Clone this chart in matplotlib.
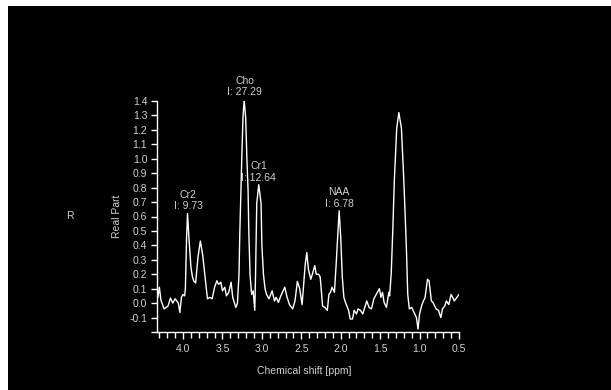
import matplotlib
matplotlib.use("Agg")
from matplotlib import pyplot as plt
from matplotlib.patches import Rectangle
from matplotlib.ticker import MultipleLocator, FixedLocator
import numpy as np

# spectrum (ppm, real part)
ppm = [4.32, 4.30, 4.28, 4.24, 4.19, 4.16, 4.13, 4.10, 4.06, 4.04, 4.02, 4.00, 3.98,
       3.97, 3.955, 3.943, 3.925, 3.90, 3.88, 3.86, 3.84, 3.81, 3.78, 3.75, 3.72, 3.69,
       3.66, 3.63, 3.60, 3.57, 3.55, 3.52, 3.50, 3.47, 3.45, 3.42, 3.39, 3.37, 3.33, 3.31,
       3.29, 3.28, 3.255, 3.24, 3.225, 3.205, 3.19, 3.175, 3.165, 3.15, 3.13, 3.11, 3.09,
       3.08, 3.065, 3.04, 3.01, 3.00, 2.98, 2.96, 2.94, 2.91, 2.87, 2.84, 2.82, 2.79, 2.76,
       2.71, 2.68, 2.65, 2.61, 2.58, 2.55, 2.52, 2.49, 2.45, 2.43, 2.41, 2.38, 2.36, 2.33,
       2.31, 2.28, 2.26, 2.23, 2.20, 2.17, 2.15, 2.13, 2.11, 2.08, 2.06, 2.02, 2.00, 1.98,
       1.96, 1.94, 1.90, 1.88, 1.85, 1.83, 1.80, 1.78, 1.75, 1.72, 1.69, 1.67, 1.64, 1.61,
       1.58, 1.55, 1.51, 1.49, 1.47, 1.45, 1.42, 1.39, 1.38, 1.36, 1.34, 1.32, 1.29, 1.263,
       1.23, 1.20, 1.175, 1.165, 1.15, 1.13, 1.10, 1.07, 1.04, 1.02, 1.00, 0.97, 0.93, 0.90,
       0.88, 0.85, 0.83, 0.79, 0.76, 0.73, 0.71, 0.68, 0.66, 0.63, 0.60, 0.58, 0.56, 0.54,
       0.50]
real = [0.04, 0.11, 0.02, -0.04, -0.02, 0.035, 0.0, 0.03, 0.0, -0.065, 0.04, 0.06, 0.05,
        0.10, 0.45, 0.62, 0.45, 0.25, 0.18, 0.15, 0.14, 0.32, 0.43, 0.33, 0.18, 0.03,
        0.04, 0.03, 0.11, 0.155, 0.13, 0.145, 0.085, 0.11, 0.05, 0.075, 0.145, 0.04, -0.03, 0.0,
        0.2, 0.48, 1.0, 1.28, 1.41, 1.28, 1.0, 0.78, 0.48, 0.2, 0.06, 0.085, -0.05,
        0.2, 0.69, 0.82, 0.69, 0.40, 0.2, 0.1, 0.06, 0.03, 0.085, 0.015, 0.04, 0.005, 0.05,
        0.11, 0.04, -0.01, -0.04, 0.015, 0.15, 0.10, -0.01, 0.27, 0.35, 0.235, 0.165, 0.2, 0.26,
        0.2, 0.2, 0.18, -0.02, -0.03, -0.05, 0.06, 0.075, 0.11, 0.075, 0.25, 0.64, 0.455, 0.18,
        0.04, 0.005, -0.05, -0.11, -0.11, -0.05, -0.075, -0.04, -0.05, -0.075, -0.02, 0.015, -0.03, -0.04,
        0.03, 0.06, 0.1, 0.04, 0.075, 0.005, -0.03, 0.075, 0.05, 0.2, 0.5, 0.85, 1.21, 1.32,
        1.21, 0.85, 0.5, 0.34, 0.06, -0.04, -0.03, -0.065, -0.1, -0.18, -0.075, -0.01, 0.04, 0.165,
        0.155, 0.015, 0.005, -0.04, -0.05, -0.1, -0.04, -0.02, 0.015, -0.01, 0.06, 0.04, 0.015, 0.03,
        0.06]

peak_names = ["Cr2", "Cho", "Cr1", "NAA"]
peak_ints = ["9.73", "27.29", "12.64", "6.78"]
peak_ppm = [3.934, 3.22, 3.04, 2.02]
peak_top = [0.62, 1.41, 0.82, 0.64]

txt = "#d0d0d0"
plt.rcParams["font.family"] = ["Liberation Sans", "DejaVu Sans"]
plt.rcParams["font.size"] = 7.5

fig = plt.figure(figsize=(6.11, 3.90), dpi=100, facecolor="white")
fig.patches.append(Rectangle((8/611, 0), 1, 384/390, transform=fig.transFigure,
                             facecolor="black", edgecolor="none", zorder=-10))

ax = fig.add_axes([157/611, 58/390, 302/611, 231/390])
ax.set_facecolor("none")
ax.plot(ppm, real, color="white", lw=1.0)

ax.set_xlim(4.33, 0.5)
ax.set_ylim(-0.2, 1.4)
for s in ["top", "right"]:
    ax.spines[s].set_visible(False)
for s in ["left", "bottom"]:
    ax.spines[s].set_color("white")
    ax.spines[s].set_linewidth(1.0)

ax.xaxis.set_major_locator(FixedLocator([4.0, 3.5, 3.0, 2.5, 2.0, 1.5, 1.0, 0.5]))
ax.xaxis.set_minor_locator(MultipleLocator(0.1))
ax.yaxis.set_major_locator(FixedLocator(np.round(np.arange(-0.1, 1.41, 0.1), 1)))
ax.yaxis.set_minor_locator(FixedLocator([-0.2]))
ax.xaxis.set_major_formatter(matplotlib.ticker.FormatStrFormatter("%.1f"))
ax.yaxis.set_major_formatter(matplotlib.ticker.FormatStrFormatter("%.1f"))
ax.tick_params(axis="both", which="both", colors="white", labelcolor=txt, width=1.0)
ax.tick_params(axis="x", which="major", length=5, pad=4)
ax.tick_params(axis="x", which="minor", length=4)
ax.tick_params(axis="y", which="both", length=4, pad=3)

for n, i, x, y in zip(peak_names, peak_ints, peak_ppm, peak_top):
    ax.text(x, y + 0.015, n + "\nI: " + i, color=txt, ha="center", va="bottom",
            multialignment="center", linespacing=1.15, clip_on=False)

fig.text(70/611, 1 - 216/390, "R", color=txt, ha="center", va="center")
fig.text(117/611, 1 - 216/390, "Real Part", color=txt, ha="center", va="center", rotation=90)
fig.text(304/611, 1 - 371/390, "Chemical shift [ppm]", color=txt, ha="center", va="center")

fig.savefig("out.png", dpi=100, facecolor=fig.get_facecolor())
